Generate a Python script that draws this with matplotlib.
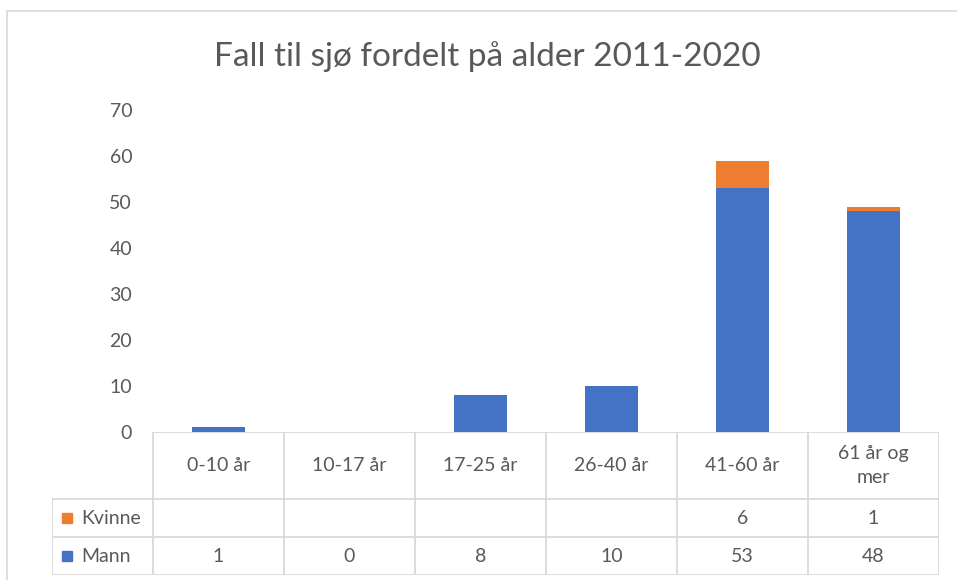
import numpy as np
import matplotlib
matplotlib.use("Agg")
import matplotlib.pyplot as plt
from matplotlib.patches import Rectangle

# data
categories = ["0-10 år", "10-17 år", "17-25 år", "26-40 år", "41-60 år", "61 år og\nmer"]
mann = [1, 0, 8, 10, 53, 48]
kvinne = [np.nan, np.nan, np.nan, np.nan, 6, 1]
series_names = ["Kvinne", "Mann"]
yticks = [0, 10, 20, 30, 40, 50, 60, 70]

blue = "#4472C4"
orange = "#ED7D31"
txt = "#595959"
grid = "#D9D9D9"

plt.rcParams["font.family"] = ["Lato", "DejaVu Sans"]

W, H = 957, 580
fig = plt.figure(figsize=(W / 100, H / 100), dpi=100)

# outer chart border
fig.patches.append(Rectangle((7 / W, -0.1), 1.2, (H - 10.5) / H + 0.1, transform=fig.transFigure,
                             fill=False, edgecolor=grid, lw=1.2))

fig.text(487 / W, 1 - 57 / H, "Fall til sjø fordelt på alder 2011-2020",
         ha="center", va="center", fontsize=24, color=txt)

# bar area
left, right, y0, ytop = 153, 939, 432, 110
ax = fig.add_axes([left / W, (H - y0) / H, (right - left) / W, (y0 - ytop) / H])
x = np.arange(len(categories))
k = np.nan_to_num(kvinne)
ax.bar(x, mann, width=0.4, color=blue)
ax.bar(x, k, width=0.4, bottom=mann, color=orange)
ax.set_xlim(-0.5, len(categories) - 0.5)
ax.set_ylim(0, 70)
ax.set_yticks(yticks)
ax.tick_params(axis="y", length=0, pad=15, labelsize=14, labelcolor=txt)
ax.set_xticks([])
for s in ax.spines.values():
    s.set_visible(False)
ax.patch.set_visible(False)

# data table
tbl_left, tbl_bottom = 52, 575
colw = (right - left) / len(categories)
xmin = -0.5 - (left - tbl_left) / colw
ht = fig.add_axes([tbl_left / W, (H - tbl_bottom) / H, (right - tbl_left) / W, (tbl_bottom - y0) / H])
ht.set_xlim(xmin, len(categories) - 0.5)
ht.set_ylim(0, tbl_bottom - y0)
ht.axis("off")
r_mann, r_kv, r_head = 38, 76, tbl_bottom - y0
lc = dict(color=grid, lw=1.3, solid_capstyle="butt")
for i in range(len(categories) + 1):
    ht.plot([i - 0.5, i - 0.5], [0, r_head], **lc)
ht.plot([xmin, xmin], [0, r_kv], **lc)
for yy in [0, r_mann, r_kv]:
    ht.plot([xmin, len(categories) - 0.5], [yy, yy], **lc)
ht.plot([-0.5, len(categories) - 0.5], [r_head, r_head], **lc)

fs = 14
for i, c in enumerate(categories):
    ht.text(i, (r_kv + r_head) / 2, c, ha="center", va="center", fontsize=fs, color=txt,
            linespacing=1.5)
    if not np.isnan(kvinne[i]):
        ht.text(i, (r_mann + r_kv) / 2, f"{kvinne[i]:g}", ha="center", va="center", fontsize=fs, color=txt)
    ht.text(i, r_mann / 2, f"{mann[i]:g}", ha="center", va="center", fontsize=fs, color=txt)

key_x = xmin + 15 / colw
for name, col, yc in [(series_names[0], orange, (r_mann + r_kv) / 2), (series_names[1], blue, r_mann / 2)]:
    ht.plot([key_x], [yc], marker="s", markersize=7, color=col, linestyle="none")
    ht.text(key_x + 14 / colw, yc, name, ha="left", va="center", fontsize=fs, color=txt)

fig.savefig("out.png", dpi=100)
